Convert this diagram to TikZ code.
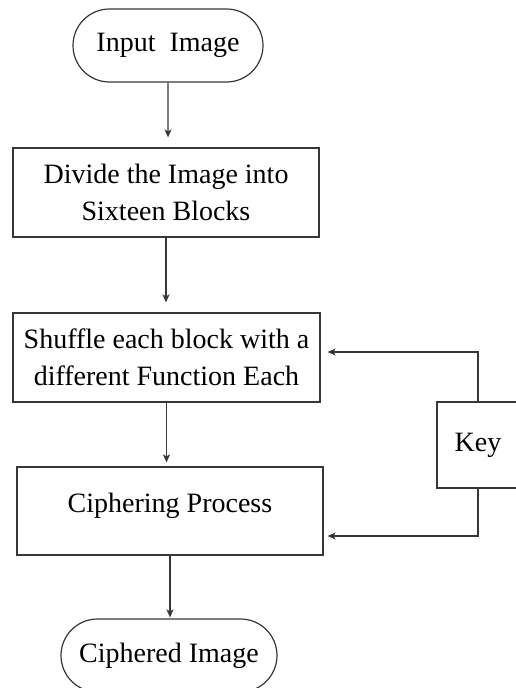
\documentclass[tikz,border=0pt]{standalone}
\usepackage{fontspec}
\setmainfont{Liberation Serif}
\usetikzlibrary{arrows.meta,shapes.misc}

\definecolor{linegray}{RGB}{55,55,55}

\tikzset{
    stadium/.style={rounded rectangle, draw=linegray, line width=1.2pt, minimum height=73pt, inner sep=0pt},
    stepbox/.style={rectangle, draw=linegray, line width=1.2pt, align=center, inner sep=0pt},
    flow/.style={draw=linegray, line width=1.2pt, -{Stealth[length=8pt,width=7pt,inset=2pt]}},
}

\begin{document}
\begin{tikzpicture}[x=1pt, y=-1pt, font=\fontsize{28}{37}\selectfont]
        \useasboundingbox (0,0) rectangle (516,688);
        \node[stadium, minimum width=190pt] (input) at (168,45.5) {Input~~Image};
        \node[stepbox, minimum width=306pt, minimum height=89pt] (divide) at (166,192.5) {Divide the Image into\\Sixteen Blocks};
        \node[stepbox, minimum width=307pt, minimum height=89pt] (shuffle) at (166.5,357.5) {Shuffle each block with a\\different Function Each};
        \node[stepbox, minimum width=306pt, minimum height=88pt, text depth=16pt] (cipher) at (170,511) {Ciphering Process};
        \node[stadium, minimum width=216pt] (output) at (169,655.5) {Ciphered Image};
        \node[stepbox, minimum width=82pt, minimum height=86pt] (key) at (478,445) {Key};

        \draw[flow, shorten >=10pt] (input) -- (input |- divide.north);      % input -> divide
        \draw[flow, shorten >=10pt] (divide) -- (divide |- shuffle.north);   % divide -> shuffle
        \draw[flow, shorten >=4pt] (shuffle) -- (shuffle |- cipher.north);   % shuffle -> cipher
        \draw[flow, shorten >=1pt] (cipher) -- (cipher |- output.north);     % cipher -> output
        \draw[flow, shorten >=7pt] (key.north) |- ([yshift=5.5pt]shuffle.east);   % key feeds shuffling
        \draw[flow, shorten >=4pt] (key.south) |- ([yshift=-25pt]cipher.east);    % key feeds ciphering
\end{tikzpicture}
\end{document}
